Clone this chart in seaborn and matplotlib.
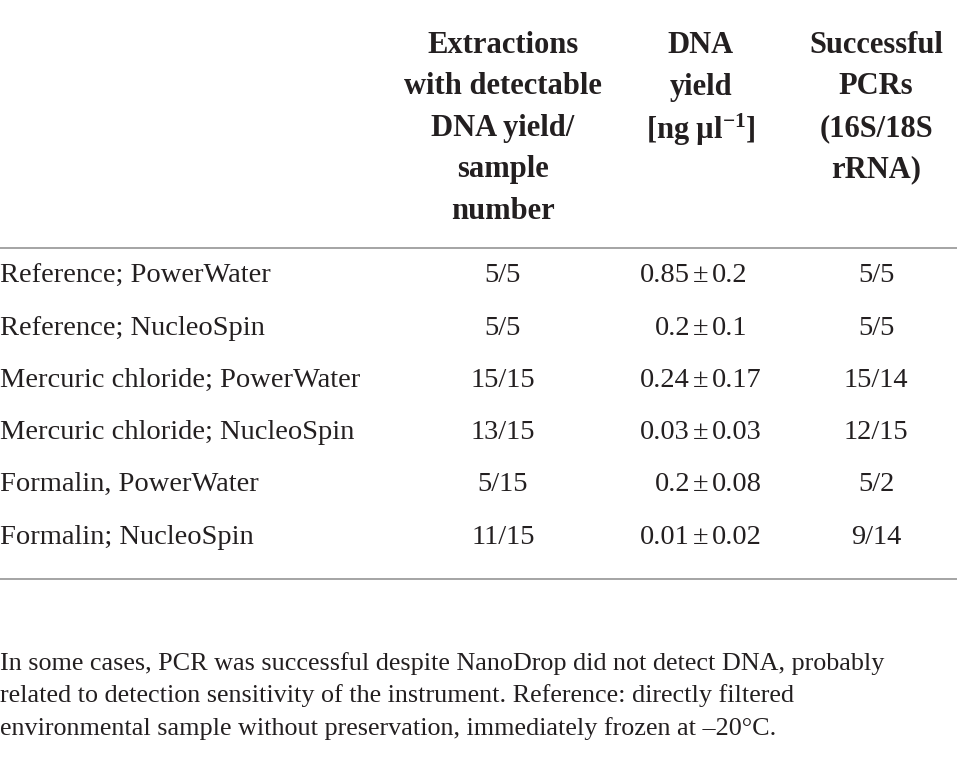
import matplotlib
matplotlib.use('Agg')

import matplotlib.pyplot as plt
import seaborn as sns

# table content
row_labels = [
    'Reference; PowerWater',
    'Reference; NucleoSpin',
    'Mercuric chloride; PowerWater',
    'Mercuric chloride; NucleoSpin',
    'Formalin, PowerWater',
    'Formalin; NucleoSpin',
]
extractions = ['5/5', '5/5', '15/15', '13/15', '5/15', '11/15']
yield_mean = ['0.85', '0.2', '0.24', '0.03', '0.2', '0.01']
yield_sd = ['0.2', '0.1', '0.17', '0.03', '0.08', '0.02']
pcrs = ['5/5', '5/5', '15/14', '12/15', '5/2', '9/14']

header_extr = ['Extractions', 'with detectable', 'DNA yield/', 'sample', 'number']
header_yield = ['DNA', 'yield', r'[ng µl$^{-1}$]']
header_pcr = ['Successful', 'PCRs', '(16S/18S', 'rRNA)']

footnote = [
    'In some cases, PCR was successful despite NanoDrop did not detect DNA, probably',
    'related to detection sensitivity of the instrument. Reference: directly filtered',
    'environmental sample without preservation, immediately frozen at \u201320°C.',
]

sns.set_theme(style='white')
plt.rcParams['font.family'] = ['Liberation Serif', 'DejaVu Serif']
plt.rcParams['mathtext.fontset'] = 'custom'
plt.rcParams['mathtext.rm'] = 'Liberation Serif:bold'
plt.rcParams['mathtext.default'] = 'rm'

fig = plt.figure(figsize=(9.57, 7.6), dpi=100)
ax = fig.add_axes([0, 0, 1, 1])
ax.set_xlim(0, 957)
ax.set_ylim(760, 0)
ax.axis('off')

ink = '#231f20'
col_x = [503, 701, 876]
head_fs = 22
body_fs = 20.5

# header, top aligned in each column
for x, lines in zip(col_x, [header_extr, header_yield, header_pcr]):
    for i, line in enumerate(lines):
        ax.text(x, 42 + i * 41.5, line, ha='center', va='center_baseline',
                fontsize=head_fs, fontweight='bold', color=ink)

# rules
for y in [248, 579]:
    ax.axhline(y, color='#9d9d9d', lw=1.3)

# body rows
for i, label in enumerate(row_labels):
    y = 273 + i * 52.2
    ax.text(0, y, label, ha='left', va='center_baseline', fontsize=body_fs, color=ink)
    ax.text(col_x[0], y, extractions[i], ha='center', va='center_baseline',
            fontsize=body_fs, color=ink)
    ax.text(col_x[1] - 11, y, yield_mean[i], ha='right', va='center_baseline',
            fontsize=body_fs, color=ink)
    ax.text(col_x[1], y, '±', ha='center', va='center_baseline', fontsize=body_fs, color=ink)
    ax.text(col_x[1] + 11, y, yield_sd[i], ha='left', va='center_baseline',
            fontsize=body_fs, color=ink)
    ax.text(col_x[2], y, pcrs[i], ha='center', va='center_baseline',
            fontsize=body_fs, color=ink)

# footnote
for i, line in enumerate(footnote):
    ax.text(0, 661 + i * 32.5, line, ha='left', va='center_baseline',
            fontsize=18.8, color=ink)

fig.savefig('out.png', dpi=100, facecolor='white')
plt.close(fig)
